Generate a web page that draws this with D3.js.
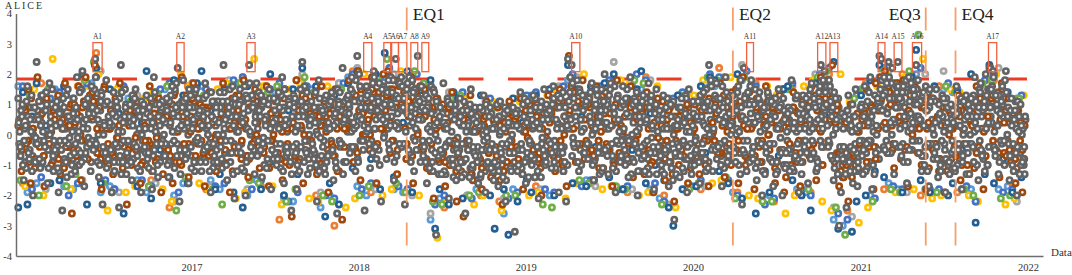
<!DOCTYPE html>
<html><head><meta charset="utf-8">
<script src="https://cdn.jsdelivr.net/npm/d3@7"></script>
<style>body{margin:0;background:#fff}svg{display:block}text{font-family:"Liberation Serif","Times New Roman",serif}</style>
</head><body><svg id="c" width="1072" height="275"></svg>
<script>
// ---------- data ----------
const axisStart = "2015-12-15", axisEnd = "2022-02-03";
const seriesStart = "2015-12-20";
const yearTicks = [2017, 2018, 2019, 2020, 2021, 2022];
const yTicks = [-4, -3, -2, -1, 0, 1, 2, 3, 4];
const yTitle = "ALICE", xTitle = "Data";
const threshold = 1.84;
const thresholdEnd = "2021-12-30";
const eqLabels = ["EQ1", "EQ2", "EQ3", "EQ4"];
const eqDates = ["2018-04-16", "2020-03-28", "2021-05-23", "2021-07-27"];
const eqSpan = [4.2, -3.7];
const anomalyLabels = ["A1","A2","A3","A4","A5","A6","A7","A8","A9","A10","A11","A12","A13","A14","A15","A16","A17"];
const anomalyStart = ["2016-05-31","2016-11-30","2017-05-02","2018-01-12","2018-02-25","2018-03-14","2018-03-29","2018-04-25","2018-05-19","2019-04-11","2020-04-27","2020-09-29","2020-10-26","2021-02-08","2021-03-15","2021-04-24","2021-10-07"];
const anomalyEnd   = ["2016-06-20","2016-12-16","2017-05-20","2018-01-30","2018-03-12","2018-03-29","2018-04-16","2018-05-10","2018-06-03","2019-04-29","2020-05-12","2020-10-17","2020-11-12","2021-02-23","2021-04-01","2021-05-14","2021-10-25"];
const anomalyRange = [2.08, 3.04];

const grayVals = [
1.2,-0.4,0.6,-1.5,0.3,1.6,-0.8,0.1,-2.0,0.9, 2.4,0.5,-1.1,1.3,-0.2,0.8,-1.6,1.7,0.2,-0.7,
-0.5,1.1,-1.9,0.4,-2.5,0.9,-0.9,1.5,-0.1,-1.3, 0.7,-1.2,1.9,0.1,-0.6,2.1,-1.7,0.5,1.2,-0.3,
1.6,-0.5,2.5,0.8,-1.4,1.1,-2.3,0.3,1.8,-0.8, 0.4,-1.9,1.4,-0.3,0.9,-2.4,2.3,-0.9,0.6,-1.3,
-0.2,1.0,-1.5,0.5,1.5,-0.7,0.2,-1.9,0.8,-0.4, 1.3,-0.6,0.6,-1.8,1.9,0.1,-1.0,1.0,-0.3,0.5,
-0.7,1.2,-1.4,0.4,1.6,-0.2,0.9,2.2,-2.2,0.3, 1.8,-0.5,0.7,-1.6,1.3,0.2,-0.9,1.5,-0.1,0.8,
-1.2,0.6,1.7,-0.4,0.3,-1.9,1.1,-0.7,0.9,0.0, 1.4,-0.8,2.3,0.5,-1.5,0.9,-0.2,1.6,-2.1,0.6,
0.1,1.5,-1.1,0.7,-2.0,1.2,2.3,-0.4,0.9,-1.3, 1.7,-0.2,0.6,-1.4,1.1,0.3,-0.8,1.5,-1.8,0.4,
0.8,-1.0,1.4,-0.3,1.9,-1.6,0.5,-0.6,1.0,-2.5, -0.4,1.2,-1.8,0.6,1.5,2.4,-0.9,0.9,-1.3,0.3,
1.1,-0.5,0.4,-2.2,1.8,-0.1,0.8,-1.1,1.3,-0.7, 0.2,1.4,-1.5,0.7,-2.6,1.0,-0.3,2.2,0.5,-0.9,
1.3,-0.6,1.9,0.4,-1.2,2.6,2.0,0.9,-0.2,-2.5, 1.6,0.2,-1.1,1.2,2.1,-0.4,0.8,1.7,-2.2,0.5,
1.0,-0.8,1.8,0.3,1.4,-1.5,2.5,0.7,-0.3,1.9, 0.9,-2.3,1.5,-0.5,0.6,1.8,-1.2,0.2,2.6,1.1,
1.6,-0.7,0.8,-1.6,1.2,0.1,-0.9,1.4,-3.3,-0.2, 0.6,-1.3,1.7,-0.4,0.2,-2.1,1.0,-0.8,0.5,-1.5,
-0.6,1.2,-1.4,0.3,-2.6,0.8,-0.2,1.5,-1.0,0.1, 0.4,-1.6,0.9,-0.5,1.3,-1.9,-0.1,0.6,-1.1,0.2,
-0.9,0.5,-1.7,1.1,-0.3,0.2,-2.2,0.8,-0.6,-1.2, 0.9,-3.2,0.3,-1.0,1.4,-0.5,0.6,-1.6,1.1,-0.2,
-0.7,1.3,-1.4,0.4,-2.1,0.9,-0.1,1.5,-0.9,0.5, 0.8,-1.1,1.6,-0.4,0.2,-1.9,1.2,-0.6,0.6,-2.2,
2.5,1.4,2.3,-0.3,0.9,1.8,-1.2,0.5,1.3,-0.6, 1.1,-0.8,0.6,1.7,-1.5,0.2,1.3,-0.4,0.8,-1.1,
2.0,0.4,-1.3,1.5,-0.3,0.9,-1.9,1.2,0.1,-0.7, 1.6,-0.5,0.7,-1.4,1.9,0.0,-0.9,1.1,-2.0,0.6,
-0.4,1.3,-1.2,0.5,1.7,-0.6,0.3,-1.8,1.0,0.1, 0.8,-1.0,1.3,-0.5,0.2,-1.7,1.0,-0.3,-2.8,-1.3,
0.5,-1.4,1.2,-0.2,0.7,-1.9,1.5,-0.7,0.3,-1.0, -0.5,1.1,-1.6,0.6,1.4,-0.8,0.2,2.3,1.8,-1.2,
0.9,1.7,-0.4,1.2,-1.7,0.4,1.9,-0.9,0.7,0.0, 1.3,-0.6,0.8,1.6,-1.3,-2.3,2.2,0.5,-0.2,1.0,
1.8,-0.8,0.4,-1.5,1.2,0.1,-2.0,0.9,-0.4,1.4, -0.3,1.1,-1.7,0.6,-0.9,1.5,-0.1,-2.0,0.8,-0.6,
0.7,-1.2,1.8,0.2,-0.7,1.3,-1.9,0.5,1.0,-0.4, 1.2,-1.6,0.5,1.7,-0.6,0.9,-1.1,1.4,2.3,0.2,
2.1,1.0,-0.4,1.6,0.6,-1.5,1.2,-0.8,-3.0,-1.9, -0.8,0.6,-2.4,1.3,-1.2,0.1,-0.5,1.5,-1.7,0.3,
0.9,-1.3,1.6,-0.3,0.4,1.9,-1.8,0.8,-0.6,1.2, 2.6,2.5,1.3,-0.5,1.7,2.4,0.4,2.2,-1.3,0.9,
2.4,1.2,-0.7,1.6,0.3,-1.6,1.9,0.7,-0.2,1.3, 2.3,1.8,0.5,-1.2,1.4,-0.4,0.8,-1.7,1.1,0.2,
-0.6,1.5,-1.4,0.7,-0.2,1.2,-1.9,0.4,-0.9,1.0, 0.8,-1.1,1.6,-0.5,0.3,-1.8,1.1,-0.3,0.6,-1.3,
1.2,-0.4,1.9,0.6,-1.5,1.4,-0.7,0.9,2.0,-1.0, 2.2,1.5,2.1,-0.5,1.0,-1.3,0.7,1.6,-0.2,2.1,
0.6,-1.5,1.2,-0.3,0.8,-2.0,0.1,1.0,-0.9,-0.4];

const grayVals2 = [
-0.3,0.8,-1.0,0.2,1.1,-0.6,0.5,-1.2,0.9,-0.1, 0.6,-0.8,1.3,0.1,-0.4,1.0,-1.1,0.4,1.5,-0.2,
0.3,-1.1,0.7,-0.5,1.2,-0.2,-1.4,0.6,-0.7,0.1, -0.6,0.9,-0.1,1.4,-0.9,0.4,1.0,-0.4,0.7,-1.2,
0.9,1.5,-0.3,0.5,-1.0,1.3,0.0,-0.6,1.1,0.3, -0.5,0.7,-1.2,1.1,0.1,-0.7,1.4,-0.2,0.9,-1.0,
0.6,-0.9,0.3,1.2,-0.4,0.8,-1.2,0.0,1.0,-0.6, -0.8,0.9,0.2,-1.2,1.4,-0.3,0.6,-0.9,1.1,0.0,
0.4,-1.0,1.1,-0.3,0.7,1.5,-0.7,0.2,-1.3,0.9, 0.2,1.2,-0.6,0.9,-1.1,0.5,1.4,-0.2,0.7,-0.9,
0.8,-0.5,1.3,0.0,-1.2,0.6,-0.3,1.0,-0.9,0.4, -0.4,1.1,0.2,-1.0,0.7,1.5,-0.6,0.3,1.0,-1.2,
1.0,-0.6,0.4,1.6,-0.9,0.8,0.1,1.3,-0.5,0.6, -0.7,0.8,1.3,-0.3,0.5,-1.1,1.0,0.2,-0.5,1.2,
0.5,-0.8,0.9,1.3,-1.2,0.3,-0.4,1.1,-0.9,0.6, 0.9,-0.6,0.3,-1.2,1.1,0.6,-0.2,1.4,-0.8,0.5,
-0.3,0.9,-1.0,0.4,1.2,-0.7,0.7,-1.3,0.2,1.0, 1.1,-0.5,0.6,-1.1,0.9,1.4,-0.3,0.4,-0.9,1.2,
0.7,1.5,-0.4,1.1,0.3,-0.9,1.6,0.5,-0.2,1.2, 1.3,-0.3,0.9,1.7,0.2,-0.8,1.1,0.6,1.5,-0.1,
0.4,1.4,-0.5,1.0,1.8,0.3,-0.7,1.2,0.8,1.6, 1.2,0.1,1.7,-0.6,0.9,1.4,-0.2,1.0,0.5,-0.9,
0.9,-0.4,1.3,0.2,-1.1,0.7,1.5,-0.6,0.4,-1.3, -0.5,0.7,-1.2,0.3,1.1,-0.8,0.1,-1.4,0.8,-0.3,
0.4,-0.9,0.8,-1.3,0.1,-0.5,1.0,-1.1,0.5,-0.7, -0.9,0.3,-1.3,0.8,-0.5,0.1,-1.1,0.9,-0.3,-1.5,
0.2,-1.0,0.6,-0.6,-1.4,0.9,-0.3,0.4,-1.1,0.0, -0.6,0.7,-1.2,0.2,-0.3,1.0,-0.9,0.4,-1.4,0.8,
0.5,-0.8,0.9,-1.2,0.2,1.1,-0.5,-1.0,0.7,-0.2, -0.3,1.0,-0.9,0.5,1.3,-0.6,0.2,-1.2,0.9,0.3,
1.1,0.5,1.7,-0.4,0.9,-0.9,1.4,0.1,-0.6,1.0, -0.3,1.2,0.4,-1.0,0.8,1.5,-0.6,0.6,-1.2,1.1,
0.8,-0.7,1.3,0.3,-1.1,1.6,-0.2,0.5,-0.9,1.1, 0.2,1.2,-0.8,0.6,-1.3,1.0,-0.3,1.4,-0.6,0.4,
1.1,-0.7,0.4,-1.1,0.9,1.3,-0.4,0.7,-1.3,0.5, -0.7,0.5,-1.3,0.9,-0.4,0.2,-1.1,1.1,-0.6,0.3,
-0.4,0.9,-1.1,0.4,1.2,-0.8,0.1,-1.3,0.7,-0.2, 0.6,-0.9,1.1,-0.3,0.3,1.5,-1.1,0.8,-0.5,0.2,
-0.5,1.2,0.5,-1.0,0.9,-0.2,1.4,-0.7,0.3,1.0, 0.7,-0.9,1.4,0.1,0.9,-0.5,1.2,-1.2,0.4,1.6,
-0.6,1.0,-1.1,0.6,1.4,-0.3,0.8,-1.3,0.3,1.1, 0.5,-0.9,1.0,-1.3,0.2,0.9,-0.6,1.2,-1.1,0.1,
-0.5,0.8,-1.1,0.4,1.2,-0.8,0.2,-1.3,0.7,-0.2, 0.6,1.3,-0.8,0.2,1.0,-1.2,0.5,1.6,-0.4,0.9,
1.4,0.3,1.8,-0.7,0.9,-1.1,0.5,1.2,-0.4,0.7, -0.4,-1.3,0.8,-0.9,0.3,-1.6,0.6,-0.6,-1.1,0.9,
-0.7,0.6,-1.2,1.1,-0.2,0.4,-1.0,1.3,0.0,-0.5, 1.5,0.8,1.9,0.2,-0.6,1.2,1.7,0.5,-0.3,1.4,
0.9,-0.4,1.4,0.6,1.8,-0.9,1.1,0.2,1.5,-0.2, 1.0,-0.6,0.5,1.3,-1.0,0.8,-0.3,1.5,0.2,-0.8,
0.4,-0.8,1.0,-1.2,0.6,-0.3,1.2,-1.0,0.2,-0.6, -0.5,0.9,-1.0,0.3,1.2,-0.7,0.5,-1.3,1.0,0.0,
0.6,-0.9,1.1,0.2,1.5,-0.5,0.8,-1.2,1.3,0.4, 0.9,1.6,-0.4,1.3,0.3,-0.9,1.1,0.6,1.8,-0.2,
-0.3,0.8,-1.0,0.5,-0.6,1.1,-1.3,0.3,-0.8,0.6];

const grayVals3 = [
0.4,-0.7,1.0,-0.2,-1.1,0.6,-0.5,1.3,0.0,-0.9, -0.3,1.1,0.3,-0.9,0.8,1.4,-0.5,0.0,1.0,-1.2,
0.9,-0.4,-1.2,1.0,0.2,-0.8,1.3,-0.3,0.5,-1.0, 1.2,-0.3,0.5,-1.0,1.5,0.2,-0.8,1.0,-0.1,0.8,
-0.2,0.7,1.9,-0.9,0.4,1.4,-0.4,1.0,-1.1,0.6, 1.0,0.3,-0.9,0.6,-0.4,1.2,-1.3,0.4,1.5,-0.6,
-0.9,0.4,1.3,-0.3,0.9,-1.1,0.6,1.1,-0.5,0.2, 0.7,-1.1,1.2,0.4,-0.5,1.0,-1.4,0.3,0.9,-0.7,
-0.3,0.8,-0.9,1.3,0.1,-1.1,1.7,0.6,-0.5,1.1, 1.1,-0.8,0.4,1.5,-0.4,0.9,-1.2,0.6,1.2,-0.3,
0.3,1.2,-0.9,0.7,-0.3,1.4,-1.1,0.5,-0.5,1.1, 0.9,-1.1,1.4,-0.2,1.1,-0.6,0.6,-1.3,1.2,0.1,
-0.4,1.1,0.6,-1.2,1.3,0.2,1.7,-0.7,1.0,0.4, 0.8,1.4,-0.5,1.0,-1.0,0.6,-0.2,1.2,0.3,-0.8,
-0.6,1.1,0.2,-1.1,0.8,1.5,-0.7,0.4,1.2,-1.3, 1.3,0.1,-1.0,1.1,-0.4,0.8,1.6,-0.6,0.5,-1.1,
0.6,-0.8,1.4,0.0,-1.2,0.9,-0.4,1.2,-0.9,0.4, -0.6,1.2,0.3,-0.9,1.5,-0.2,0.8,-1.3,1.1,0.5,
1.0,-0.4,1.4,0.2,1.8,-0.8,0.6,1.2,-0.5,0.9, 0.1,1.4,0.8,-0.6,1.9,0.5,1.2,-1.0,0.9,1.6,
1.5,0.6,-0.3,1.9,0.9,-0.9,1.3,0.2,1.7,-0.4, -0.3,1.3,0.7,1.9,-0.9,0.4,1.5,-0.5,1.2,0.8,
0.5,1.2,-0.9,0.9,-0.2,1.6,-1.2,0.3,1.1,-0.7, 0.9,-0.6,0.4,-1.3,1.2,-0.2,0.6,-1.0,1.0,-0.5,
-1.1,0.6,-0.3,1.1,-0.8,0.3,-1.4,0.7,-0.4,0.9, 0.6,-0.7,-1.4,0.3,-0.2,1.0,-0.9,-0.5,0.7,-1.2,
-0.5,1.0,-1.2,0.1,-0.8,0.7,-1.5,0.3,-0.2,0.9, 0.3,-1.1,0.8,-0.5,0.2,-1.3,1.2,-0.8,0.5,-0.3,
-1.0,0.3,1.2,-0.4,0.8,-1.4,0.5,-0.7,1.0,-0.2, 0.7,-0.6,1.2,-1.1,0.4,0.9,-0.4,1.4,-0.9,0.5,
0.2,1.9,-0.7,1.2,0.6,-0.3,1.5,-1.0,0.8,1.3, 1.2,-0.3,1.4,0.0,-0.9,1.0,0.4,-1.3,1.5,-0.5,
-0.5,1.0,0.2,1.7,-0.7,0.7,-1.2,1.3,0.5,-0.2, 1.0,-1.0,1.5,-0.2,0.6,-0.8,1.2,0.1,-1.2,0.9,
-0.8,0.6,1.2,-0.2,-1.3,1.1,0.2,-0.6,1.5,-0.4, 0.5,-1.2,0.2,-0.6,1.2,-0.9,0.6,-1.5,0.3,-0.3,
0.9,-0.7,0.3,-1.2,1.3,-0.4,0.6,-1.0,1.1,-0.6, -0.9,0.5,1.3,-0.6,0.9,-1.2,1.1,0.0,1.6,-0.4,
1.3,-0.8,0.8,-0.3,1.6,-1.1,0.6,1.1,-0.5,0.4, -0.4,1.2,0.2,-1.0,1.8,0.6,-0.6,1.0,1.4,-0.9,
1.1,-0.4,1.5,-0.9,0.5,1.0,-1.2,0.2,-0.6,1.3, -0.8,0.6,-0.3,1.2,-1.2,0.3,1.0,-0.5,0.5,-1.0,
0.9,-0.6,0.4,-1.2,1.2,-0.3,0.7,-0.9,1.3,0.2, -0.6,0.9,1.5,-0.2,1.2,0.4,-0.9,1.1,0.6,1.8,
0.8,1.6,-0.2,1.1,-0.8,1.4,0.2,-1.3,0.6,-0.7, 0.2,-0.8,-1.3,0.5,-0.4,1.0,-1.2,0.2,-0.9,-0.2,
1.0,-0.5,0.6,-1.1,1.4,-0.2,0.8,-1.3,0.3,1.1, 0.9,1.8,-0.4,1.4,0.7,1.9,-0.6,1.2,0.4,1.6,
1.6,0.2,1.1,-0.9,1.4,0.6,-0.5,1.7,0.4,1.0, 1.5,0.6,1.1,-0.7,0.3,1.6,-1.2,0.9,-0.3,1.2,
1.1,-0.4,0.5,-1.0,1.3,0.1,-0.8,0.9,-1.3,0.5, 0.4,-1.2,0.7,-0.3,1.1,-0.9,0.2,1.3,-0.6,0.8,
-0.3,1.3,0.4,-1.0,0.9,1.7,-0.6,1.1,0.2,1.5, 1.5,0.4,1.9,-0.7,0.8,1.3,-0.2,1.0,-1.0,1.4,
0.9,-0.7,0.3,-1.2,1.1,-0.4,0.6,-1.0,0.2,-1.3];

const grayVals4 = [
0.1,-0.5,0.7,-0.9,0.3,-0.2,0.9,-0.7,0.5,-0.3, 0.8,-0.2,0.4,-0.7,1.1,0.0,-0.5,0.6,-0.9,0.3,
-0.6,0.4,-0.2,0.8,-1.0,0.2,0.6,-0.4,1.0,-0.8, 0.3,0.9,-0.5,0.6,-0.2,1.1,-0.6,0.2,0.8,-0.9,
0.5,-0.2,1.2,0.0,0.8,-0.6,0.4,1.0,-0.4,0.2, 0.3,-0.6,0.8,-0.1,-0.9,0.5,0.1,-0.4,1.0,-0.7,
-0.4,0.5,-0.8,0.8,0.0,-0.5,1.0,-0.2,0.4,-1.0, 0.4,-0.4,1.0,-0.7,0.6,0.0,-0.9,0.8,-0.2,1.1,
0.9,-0.5,0.3,-0.9,0.6,0.1,-0.3,1.0,-0.7,0.5, -0.5,0.7,0.0,1.0,-0.7,0.4,-0.2,0.9,0.2,-0.8,
0.5,-0.8,0.2,0.9,-0.4,0.6,-0.9,0.3,1.1,-0.2, 0.7,0.0,-0.6,1.0,0.3,-0.9,0.8,-0.3,0.5,1.2,
0.6,-0.3,1.1,0.3,-0.7,0.9,0.0,1.3,-0.4,0.7, 0.2,-0.6,0.9,-0.1,1.1,0.5,-0.9,0.7,-0.2,0.4,
-0.3,0.6,-0.8,0.4,0.9,-0.5,0.1,1.0,-0.9,0.3, 0.6,-0.3,1.0,-0.8,0.2,0.8,-0.5,1.1,0.0,-0.7,
0.5,-0.6,0.1,0.9,-0.9,0.4,-0.2,0.8,-0.7,0.2, -0.2,0.8,-0.7,0.4,1.1,-0.4,0.6,-0.9,0.9,0.1,
0.9,0.1,1.3,-0.4,0.6,1.1,-0.2,0.8,0.3,1.4, 0.4,1.1,-0.2,0.9,0.2,1.4,-0.5,0.7,1.2,0.0,
1.1,0.2,1.5,0.6,-0.2,1.2,0.4,1.7,-0.4,0.9, 0.8,-0.3,1.2,0.3,1.6,-0.1,0.7,1.3,-0.5,0.5,
-0.2,0.7,-0.8,1.0,0.3,-0.5,0.8,0.0,1.2,-0.9, 0.4,-0.8,0.2,-0.3,0.8,-1.0,0.5,-0.5,1.0,-0.1,
-0.5,0.3,-0.9,0.7,-0.2,0.4,-1.1,0.1,-0.6,0.8, -0.4,0.5,-0.9,0.0,-1.2,0.6,-0.6,0.2,-1.0,0.4,
0.5,-0.7,0.0,-1.1,0.6,-0.4,-0.9,0.3,-0.6,0.7, -0.9,0.4,-0.4,0.7,-1.1,0.1,0.6,-0.6,0.3,-0.8,
0.2,-0.6,0.7,-0.9,0.4,-0.3,1.0,-0.7,0.1,0.6, -0.6,0.5,-0.2,0.9,-0.8,0.3,1.1,-0.4,0.6,-1.0,
0.7,1.2,-0.1,0.9,0.3,1.4,-0.5,1.0,0.2,-0.3, 0.5,-0.5,1.0,0.1,-0.8,0.8,-0.2,1.1,-0.6,0.4,
0.2,1.1,-0.5,0.7,-0.9,0.4,1.2,-0.3,0.9,0.0, -0.5,0.6,-0.1,1.0,-0.8,0.4,0.8,-0.4,0.2,1.1,
0.7,-0.3,0.9,-0.8,0.3,-0.1,1.1,-0.6,0.5,-0.9, -0.2,0.7,-0.9,0.3,-0.5,0.9,-1.1,0.0,-0.7,0.6,
0.3,-0.5,0.8,-0.8,0.1,0.9,-0.3,-1.0,0.5,-0.1, -0.3,0.9,-0.7,0.4,-0.1,1.0,-0.9,0.5,0.0,1.2,
0.6,-0.3,1.0,-0.7,0.3,1.2,-0.4,0.8,-0.9,0.4, 0.9,0.0,1.1,-0.6,0.5,-0.2,1.3,0.2,-0.8,0.7,
0.3,-0.7,0.8,-0.2,1.1,-0.9,0.5,-0.4,0.9,0.0, -0.3,0.7,-0.9,0.2,0.9,-0.5,0.4,-1.0,0.6,-0.2,
0.5,-0.4,0.9,-0.8,0.1,0.7,-0.6,1.0,-0.2,0.3, 1.0,0.1,-0.5,1.2,0.4,-0.8,0.8,-0.2,1.3,0.5,
0.5,1.3,-0.3,0.8,0.0,1.1,-0.6,0.9,0.3,-1.0, 0.4,-0.6,-1.0,0.2,-0.8,0.6,-0.3,-1.2,0.1,-0.5,
-0.2,0.8,-0.6,0.3,-0.9,0.6,0.1,-0.4,1.0,-0.8, 1.1,0.3,1.5,-0.2,0.9,1.3,0.0,1.7,0.5,-0.4,
0.4,1.2,-0.3,0.9,1.5,0.1,0.7,-0.5,1.1,0.6, 0.6,-0.2,1.2,0.3,-0.7,0.9,1.4,-0.4,0.5,0.0,
-0.3,0.6,-0.8,0.3,0.9,-0.5,0.1,-1.0,0.7,-0.2, 0.6,-0.4,0.3,-0.8,0.8,0.0,-0.6,1.0,-0.3,0.4,
0.9,0.1,-0.5,1.2,-0.2,0.6,-0.8,1.0,0.3,-0.4, 0.6,1.1,0.1,-0.5,1.4,0.4,-0.3,0.9,1.2,0.0,
0.4,-0.4,0.7,-0.8,0.2,0.8,-0.6,0.0,-1.0,0.5];

const brownVals = [
0.5,-1.2,1.0,-0.3,1.5,-1.6,0.2,-0.8, 1.9,-0.4,0.7,-1.7,1.2,0.0,-1.0,0.9, -0.6,1.3,-1.3,0.5,1.7,-0.9,0.3,-2.6,
1.0,-0.7,1.6,-1.5,0.4,1.9,-0.2,0.8, 1.4,2.3,-0.6,0.9,-1.8,1.5,0.2,-1.0, 0.8,-1.3,1.2,-0.1,1.7,-0.8,0.4,-2.3,
0.3,-1.0,1.3,-0.5,0.6,-1.6,1.0,-0.2, -0.4,1.6,-1.2,0.7,-0.1,1.2,-1.9,0.5, 1.1,-0.5,0.4,-1.6,1.4,0.8,-0.9,1.9,
-0.3,1.3,-1.4,0.6,1.7,-0.7,0.2,1.0, 0.9,-1.7,0.3,1.4,-0.6,1.0,-1.2,0.5, -0.2,1.7,-1.0,0.8,-1.9,1.2,0.4,-0.6,
1.3,-0.8,1.8,0.2,-1.4,0.9,-0.3,1.5, 0.4,-1.1,1.2,-0.4,1.6,-1.7,0.7,0.0, 1.1,-0.6,0.5,-1.5,1.5,0.2,-1.0,-2.7,
0.9,1.8,-0.9,0.3,-1.6,1.2,-0.2,0.7, -0.5,1.3,-1.3,0.6,1.6,-0.8,0.1,-1.9, 1.0,-0.4,1.5,-1.2,0.6,-2.8,0.2,1.2,
1.8,0.4,-0.9,1.3,2.1,-1.5,0.7,0.0, 1.1,-0.5,1.9,0.6,-1.6,1.4,0.2,2.0, 0.8,2.1,-0.6,1.5,0.3,-1.3,1.7,0.9,
1.4,-0.8,0.6,1.9,-1.6,1.1,0.0,1.6, 0.5,1.5,-1.1,0.9,-0.3,-2.1,1.2,-0.8, -0.6,1.0,-1.7,0.4,-1.0,1.4,-0.3,-2.2,
0.6,-1.2,-2.7,0.9,-0.5,1.3,-1.5,0.2, -0.9,0.7,-1.8,0.3,1.1,-0.6,-1.4,0.5, -0.4,0.9,-1.5,-2.3,0.4,-0.9,1.1,-0.2,
-1.1,0.6,-0.5,1.2,-1.8,0.1,-0.8,1.0, 0.3,-1.4,1.0,-0.6,-2.0,0.7,-0.1,1.3, -0.5,1.2,-1.2,0.4,1.5,-0.9,0.6,-1.7,
2.6,1.6,0.2,-0.9,1.1,-0.3,1.8,0.5, -0.6,1.2,0.3,-1.5,1.6,-0.2,0.8,-1.1, 1.4,-0.4,0.9,-1.7,0.5,1.8,-0.8,0.2,
-0.9,1.1,-0.3,1.6,-1.4,0.6,0.0,1.2, 0.7,-1.3,1.4,-0.5,0.3,-1.9,1.0,-0.1, -0.4,1.1,-1.5,0.5,-0.9,1.0,-2.2,0.2,
-1.0,0.8,-0.3,1.2,-1.6,0.4,-0.7,1.0, 0.5,-1.3,1.3,-0.2,0.8,-1.7,1.6,0.1, 1.0,-0.6,1.7,0.3,-1.4,0.9,-0.3,1.4,
-0.5,1.5,-1.6,0.6,1.9,-0.7,0.2,1.1, 0.4,-1.8,1.2,-0.4,0.8,-1.2,1.6,0.0, -0.8,0.9,-1.6,0.3,1.3,-0.5,-1.9,0.6,
0.2,-1.0,1.4,-0.6,0.7,-1.7,1.1,-0.2, 0.9,-0.7,1.6,0.3,-1.5,1.2,1.9,-0.4, 1.2,1.8,0.5,2.3,-0.9,0.8,-1.7,-0.5,
-1.4,0.4,-2.2,1.0,-0.6,-1.0,0.7,-0.3, 0.5,-1.2,1.5,-0.4,0.9,-1.8,1.7,0.2, 1.9,0.8,2.1,-0.6,1.4,0.3,-1.1,1.7,
1.0,-0.8,1.8,0.5,-1.7,1.3,0.0,1.6, 1.5,0.2,-1.0,0.9,-1.8,0.4,1.2,-0.5, -0.3,1.1,-1.2,0.6,-1.9,0.9,0.0,-0.8,
0.9,-0.6,1.3,-1.5,0.2,1.0,-1.0,0.5, 0.3,-1.1,1.6,-0.4,0.9,-1.8,1.2,0.6, 2.2,1.3,-0.5,1.0,-1.4,1.7,0.4,-0.7,
1.2,-0.9,0.5,-1.6,0.8,-0.2,-1.9,0.3];

const brownVals2 = [
-0.7,0.9,-0.2,1.2,-1.1, 0.5,-0.9,1.1,-0.3,0.8, -0.4,0.7,-1.1,0.3,1.0, 0.4,-1.0,0.9,-0.2,1.3, 1.1,0.2,-0.8,1.6,-0.3,
-0.6,1.0,0.3,-1.1,0.7, 0.8,-0.4,1.1,-1.0,0.3, -0.2,1.1,-0.9,0.6,-1.3, 0.6,-0.7,1.3,0.1,-1.0, 0.9,-0.3,1.2,-0.9,0.4,
-0.6,0.8,-0.1,1.1,-1.1, 1.0,-0.5,0.6,-1.2,1.3, 0.3,1.2,-0.7,0.9,-0.2, -0.4,1.0,0.4,-1.1,0.8, 0.7,-0.8,1.2,-0.3,0.2,
-0.7,0.8,1.3,-0.2,0.5, 0.9,-1.1,0.3,1.1,-0.5, -0.3,0.6,-1.2,1.0,0.2, 1.2,0.3,-0.6,1.5,0.8, 0.5,1.5,-0.4,1.0,0.2,
1.3,0.4,1.8,-0.5,1.0, 0.2,1.1,-0.7,1.4,0.6, -0.5,0.8,-1.2,0.5,1.1, 0.4,-0.9,0.9,-0.3,-1.2, -0.8,0.5,-0.2,-1.3,0.8,
0.2,-1.1,0.6,-0.5,-1.3, -0.7,0.3,-1.2,0.7,-0.4, 0.5,-0.8,-1.3,0.8,-0.2, -0.5,0.6,-1.1,0.9,-0.2, 0.7,-0.4,1.1,-1.0,0.3,
0.8,1.4,-0.3,0.5,-0.8, 1.0,-0.5,0.4,-1.1,1.3, -0.3,0.7,-1.0,1.2,0.3, 0.6,-0.9,1.1,-0.2,-1.2, -0.5,0.9,-1.0,0.4,1.2,
0.3,-0.8,0.8,-1.3,-0.2, 0.6,-0.7,1.0,-1.1,0.2, -0.3,0.8,-1.0,1.2,0.4, 0.7,-0.6,1.3,0.1,-1.0, 1.1,-0.2,0.6,-1.0,1.4,
-0.4,0.9,-0.9,0.3,1.1, 0.4,-1.1,0.8,-0.5,-1.4, -0.3,0.9,-0.9,0.4,1.1, 0.9,-0.5,1.3,0.2,-1.0, 1.5,0.4,-0.7,1.0,-1.2,
-0.9,0.5,-1.4,0.2,-0.5, 0.3,-0.9,1.0,-0.4,0.8, 1.2,0.4,1.6,-0.5,0.9, 0.6,1.4,-0.4,1.1,0.2, -0.6,0.9,0.3,-1.1,1.2,
0.5,-0.8,0.9,-1.2,0.2, -0.4,0.8,-1.0,0.5,-1.3, 0.7,-0.6,1.2,0.1,-1.0, 1.2,0.3,-0.6,1.5,0.8, -0.5,0.7,-1.1,0.4,-0.8];

const brownVals3 = [
0.3,-0.5,0.8,-0.9,0.2, -0.3,0.6,-0.7,1.0,0.1, 0.5,-0.8,0.2,-0.4,0.9, -0.5,0.7,0.0,1.1,-0.8, 0.6,-0.4,1.1,0.2,-0.9,
0.2,-0.7,0.9,-0.3,0.5, -0.5,0.6,-0.1,0.9,-0.9, 0.8,-0.3,0.4,-0.8,1.0, -0.4,0.5,1.0,-0.9,0.2, 0.6,-0.6,0.1,1.1,-0.3,
-0.2,0.9,-0.7,0.4,0.0, 0.5,-0.9,1.1,0.2,-0.4, 0.8,-0.2,0.5,-0.8,1.2, 0.0,0.9,-0.6,0.5,-0.2, -0.6,0.6,0.1,-0.9,1.0,
0.4,-0.5,1.1,0.0,-0.8, -0.2,0.8,-0.8,0.3,0.6, 0.7,-0.7,0.2,1.0,-0.4, 0.3,1.2,-0.5,0.8,0.0, 1.0,0.0,1.4,-0.3,0.6,
0.5,1.3,-0.2,0.9,1.6, 1.1,-0.3,0.6,1.4,0.1, -0.4,0.6,-0.9,0.9,0.2, 0.3,-0.6,0.7,-1.0,-0.2, -0.7,0.4,-0.3,0.7,-1.1,
0.1,-0.8,0.5,-0.4,-1.1, -0.5,0.5,-1.0,0.1,-0.3, 0.6,-0.4,-0.9,0.3,-0.1, -0.3,0.8,-0.8,0.2,0.5, 0.4,-0.7,0.9,-0.2,0.0,
1.1,0.2,-0.4,0.9,0.5, -0.2,0.9,-0.7,0.6,0.1, 0.7,-0.5,0.3,1.0,-0.6, 0.1,-0.7,0.9,-0.3,0.5, 0.6,-0.5,0.2,-0.9,0.9,
-0.5,0.5,-0.2,-0.9,0.6, 0.2,-0.5,0.8,-0.8,0.1, 0.5,-0.6,1.0,-0.2,0.3, -0.2,0.8,-0.6,0.5,1.1, 0.6,-0.5,1.1,0.3,-0.8,
0.2,-0.7,0.9,-0.2,0.6, -0.5,0.6,-0.9,0.2,0.5, 0.4,-0.6,0.8,-0.2,-0.9, 0.5,1.1,-0.3,0.8,0.1, 0.9,-0.2,1.2,0.4,-0.6,
-0.4,-1.0,0.4,-0.7,0.1, -0.5,0.7,-0.2,0.9,-0.8, 0.8,1.4,0.2,1.0,-0.3, 1.1,0.3,-0.5,0.8,1.3, 0.4,-0.6,1.0,0.2,-0.3,
-0.4,0.6,-0.9,0.3,0.8, 0.2,-0.7,0.6,-0.3,0.9, 0.6,-0.4,1.0,0.2,-0.7, 0.9,-0.2,1.3,0.5,-0.6, -0.2,0.5,-0.8,0.6,-0.5];

const darkBlueVals = [
-2.4,1.4,-2.3,0.6, 1.7,-1.0,0.3,-1.6, 0.9,-1.5,1.6,-0.4, 1.2,-0.7,2.0,-2.3, 0.5,2.2,-1.6,1.0,
1.5,-1.2,0.7,-2.6, -0.8,1.2,-1.7,0.4, 2.1,-2.1,1.1,-0.5, 0.6,-1.4,1.8,-0.9, 1.3,-1.6,0.4,1.7,
2.1,-0.6,0.8,-1.8, -1.3,1.5,0.2,-1.9, 0.9,-2.4,1.6,-0.3, 1.1,-1.8,0.4,2.0, -0.9,1.3,-2.0,0.8,
1.5,-1.3,2.2,-0.6, 0.7,1.6,-1.0,-2.7, -1.6,1.3,-2.3,0.9, 1.7,-1.1,2.1,0.5, 1.3,-0.8,2.0,-1.8,
2.7,1.1,-1.4,1.8, 0.4,2.1,-1.9,1.5, 1.3,-0.9,1.8,-3.1, -1.8,0.9,-2.3,1.4, 1.2,-2.1,0.5,-1.3,
-1.5,1.3,-0.5,-2.0, -3.1,0.6,-1.8,-3.3, 1.2,-2.2,0.4,-1.5, -1.9,1.3,-0.8,0.7, 1.5,-2.0,0.3,-1.2,
2.3,-1.6,1.5,0.6, -1.7,1.6,-0.4,1.0, 1.7,-1.4,2.0,-0.3, -1.8,1.2,-0.5,1.5, 2.1,-1.6,0.7,-1.0,
1.1,-1.5,-2.4,-3.0, 1.3,-1.8,0.6,-0.9, -1.7,1.6,-0.6,1.9, 1.8,-1.2,0.5,-1.6, 0.8,2.0,-2.1,1.2,
1.5,-2.6,0.6,-1.2, -1.9,1.2,-0.7,1.5, 1.6,-1.5,0.3,-2.0, 0.8,-2.5,1.7,-1.0, 1.6,0.7,2.4,-3.1,
-1.4,0.8,-3.2,-2.2, 1.3,-2.0,1.8,-1.2, 2.3,-1.4,1.5,-0.3, 1.7,-1.9,0.8,1.9, 2.8,-1.5,0.9,-1.9,
1.6,-1.2,0.4,-2.0, -1.6,1.4,-0.5,1.1, 2.0,-2.9,1.2,-1.3, 2.3,-1.6,1.3,-0.8, 1.4,-1.9,0.5,-1.4];

const blueVals = [
1.6,-1.8, -1.4,1.2, 1.4,-2.0, -1.6,1.7, 1.9,-1.5, -1.8,1.6, 1.3,-1.5, -1.7,1.5, 1.7,-1.9, -1.5,1.6,
1.5,-1.7, -1.6,1.8, 1.9,-1.8, -1.5,1.5, 1.7,-2.2, -1.9,1.6, 1.5,-2.0, -2.1,1.7, 2.0,-1.8, -1.6,1.9,
2.2,-1.7, -1.8,2.0, 1.5,-2.3, -2.0,1.3, 1.4,-2.1, -1.8,1.2, 1.1,-2.1, -1.9,1.3, 1.4,-1.8, -1.9,1.6,
2.0,-1.7, -1.5,1.6, 1.8,-1.8, -1.7,2.0, 1.8,-1.6, -2.2,1.2, 1.4,-1.7, -1.5,2.0, 1.9,-1.5, -2.0,2.1,
1.6,-2.3, -2.1,1.5, 1.7,-1.8, -2.0,2.0, 2.2,-2.6, -2.8,1.3, 1.6,-2.1, 2.2,-1.7, -1.8,2.0, 2.2,-1.8,
-1.8,1.7, 1.5,-1.7, -2.2,1.8, 2.0,-1.9, -1.8,1.3];

const greenVals = [
-1.5,1.3, -2.0,1.5, 1.2,-1.7, -1.3,1.8, 2.4,-1.6, -1.9,1.4, 1.1,-1.6, -1.7,1.3, 1.6,-2.5, -1.4,1.5,
1.3,-1.8, -2.3,1.6, 1.7,-1.5, -1.6,1.4, 1.6,-2.2, -1.8,1.9, 1.4,-2.0, -2.2,1.5, 1.8,-2.0, -1.7,1.9,
2.5,-1.6, -1.9,2.1, 1.7,-2.2, -2.3,1.2, 1.3,-2.0, -1.9,1.0, 0.9,-2.0, -2.0,1.2, 1.2,-2.3, -2.4,1.4,
1.9,-1.5, -1.6,1.5, 1.6,-1.7, -1.8,1.8, 1.7,-1.9, -2.3,1.1, 1.3,-1.8, -1.6,1.9, 1.8,-1.4, -2.1,1.9,
1.5,-2.2, -2.2,1.4, 1.5,-1.9, -1.8,1.9, 2.1,-2.4, -3.3,1.2, 1.5,-2.2, 2.2,-1.8, -1.9,2.1, 3.3,-1.9,
-1.9,1.6, 1.4,-1.8, -2.0,1.7, 1.8,-2.1, -2.0,1.2];

const yellowVals = [
-1.7,1.5, -2.0,2.5, 1.3,-1.8, -1.6,1.6, 2.0,-2.5, 1.5,-1.9, -1.7,1.2, 1.4,-1.8, -2.2,2.0, 1.6,-1.6,
-1.8,1.5, 1.7,-2.1, -1.9,2.5, 1.6,-1.7, -2.3,1.5, 1.7,-2.1, -2.2,1.6, 1.5,-2.4, -2.1,2.0, 1.9,-2.0,
-1.8,2.1, 2.0,-2.0, 1.6,-3.4, -2.2,1.3, 1.2,-2.3, -2.0,1.1, -2.5,0.9, 1.1,-2.0, -1.9,1.3, 1.5,-2.1,
-1.6,2.0, 1.5,-1.8, -1.7,1.8, 1.7,-2.0, -1.9,1.6, 1.1,-2.4, -1.8,1.3, 1.8,-1.6, -1.5,1.9, 1.8,-2.0,
-2.1,1.6, 1.3,-2.6, -2.0,1.6, 1.8,-2.2, -2.5,2.0, 1.1,-2.9, -2.4,1.6, 2.0,-1.9, 1.9,-1.8, 2.5,-2.1,
-2.0,1.5, 1.4,-2.0, -2.2,1.8, 2.0,-2.3, -2.1,1.3];

const lightGrayVals = [1.5,-1.8,1.6,-1.5,2.1,-1.9,1.3,-1.6,-2.2,1.7,-1.7,1.8,-1.8,1.6,-2.1,2.0,-1.9,1.7,2.2,-1.8,
2.0,-2.0,-2.6,1.4,-2.0,1.2,-2.1,1.3,-1.8,1.6,1.9,-1.7,2.4,-1.8,1.8,-2.3,1.4,-1.7,1.9,2.3,
-2.1,1.5,-1.9,2.0,-2.4,-2.7,1.8,2.1,-1.9,2.0,2.1,-1.8,1.7,2.2,-2.2];

const orangeVals = [-1.6,1.7,-1.5,1.6,2.7,-1.8,1.2,-1.5,-2.4,1.6,-1.8,1.7,1.9,-1.7,-2.8,1.8,-2.0,-3.0,2.1,-1.9,
2.0,-1.8,1.6,-2.4,1.3,-2.0,-2.2,1.2,-1.7,1.5,1.8,-1.6,1.7,-1.9,1.9,-2.0,1.3,-1.8,2.2,-1.9,
1.7,-2.2,1.6,-1.9,2.0,-2.5,1.7,-1.8,2.0,-2.0,1.6,-1.9,-2.2,1.8,-1.6];

const lightBlueVals = [
1.6,-1.9, -1.6,1.4, 1.5,-1.7, -1.8,1.5, 1.7,-1.9, -1.7,1.6, 1.2,-1.5, -1.9,1.4, 1.5,-2.0, -1.6,1.7,
1.6,-1.5, -1.8,1.5, 1.7,-2.0, -1.5,1.6, 1.4,-2.0, -2.2,1.7, 1.5,-2.4, -2.0,1.7, 1.9,-1.7, -2.0,2.0,
1.9,-1.8, -1.9,1.8, 1.4,-2.8, -2.1,1.2, 1.3,-2.0, -1.8,1.1, 1.0,-2.6, -1.8,1.2, 1.3,-1.9, -2.0,1.5,
1.8,-1.6, -1.5,1.5, 1.6,-1.7, -1.8,1.7, 1.5,-1.8, -2.1,1.2, 1.3,-1.8, -1.7,1.7, 1.6,-1.6, -1.9,1.8,
1.5,-2.1, -2.0,1.4, 1.5,-1.8, -1.9,1.8, 1.9,-2.8, -3.0,1.1, 1.5,-2.0, 1.9,-1.6, -1.8,1.8, 2.0,-1.8,
-1.9,1.5, 1.4,-1.8, -1.8,1.6, 1.8,-1.8, -1.7,1.2];

// series table (sampling: step & offset in days from seriesStart), bottom -> top
const series = [
  {values: lightBlueVals, step: 20, offset: 0,  color: "#5B9BD5"},
  {values: orangeVals,    step: 40, offset: 10, color: "#ED7D31"},
  {values: lightGrayVals, step: 40, offset: 20, color: "#A5A5A5"},
  {values: yellowVals,    step: 20, offset: 15, color: "#FFC000"},
  {values: blueVals,      step: 20, offset: 10, color: "#4472C4"},
  {values: greenVals,     step: 20, offset: 5,  color: "#70AD47"},
  {values: darkBlueVals,  step: 10, offset: 0,  color: "#255E91"},
  {values: grayVals4,     step: 4,  offset: 3,  color: "#636363"},
  {values: brownVals3,    step: 8,  offset: 0,  color: "#9E480E"},
  {values: brownVals2,    step: 8,  offset: 4,  color: "#9E480E"},
  {values: brownVals,     step: 5,  offset: 2,  color: "#9E480E"},
  {values: grayVals3,     step: 4,  offset: 1,  color: "#636363"},
  {values: grayVals2,     step: 4,  offset: 2,  color: "#636363"},
  {values: grayVals,      step: 4,  offset: 0,  color: "#636363"}
];

// ---------- chart ----------
const parse = d3.timeParse("%Y-%m-%d");
const svg = d3.select("#c");
const x = d3.scaleTime().domain([parse(axisStart), parse(axisEnd)]).range([16, 1043]);
const y = d3.scaleLinear().domain([-4, 4]).range([256, 13.5]);
const s0 = parse(seriesStart);

// threshold line (behind points)
svg.append("line")
  .attr("x1", x(parse(axisStart))).attr("x2", x(parse(thresholdEnd)))
  .attr("y1", y(threshold)).attr("y2", y(threshold))
  .attr("stroke", "#EE3A22").attr("stroke-width", 3)
  .attr("stroke-dasharray", "25,24.5").attr("stroke-dashoffset", 3);

// points
const gPts = svg.append("g");
series.forEach(s => {
  const pts = s.values.map((v, i) => ({d: d3.timeDay.offset(s0, s.offset + i * s.step), v}));
  gPts.append("g").selectAll("circle").data(pts).join("circle")
    .attr("cx", p => x(p.d)).attr("cy", p => y(p.v)).attr("r", 2.65)
    .attr("fill", "#f4f4f4").attr("stroke", s.color).attr("stroke-width", 2.6);
});

// axes
const yAxis = svg.append("g").attr("transform", "translate(16,0)")
  .call(d3.axisLeft(y).tickValues(yTicks).tickSize(0).tickPadding(4).tickFormat(d => String(d)));
const xAxis = svg.append("g").attr("transform", `translate(0,${y(-4)})`)
  .call(d3.axisBottom(x).tickValues(yearTicks.map(t => new Date(t, 0, 1))).tickSize(0).tickPadding(8).tickFormat(d3.timeFormat("%Y")));
[yAxis, xAxis].forEach(g => {
  g.select(".domain").attr("stroke", "#6e6e6e").attr("stroke-width", 1.5);
  g.selectAll("text").attr("font-family", "Liberation Serif, serif").attr("font-size", 10.5).attr("fill", "#333");
});

svg.append("text").attr("x", 5).attr("y", 8.5).attr("font-size", 10).attr("fill", "#333")
  .attr("textLength", 37).text(yTitle);
svg.append("text").attr("x", 1051).attr("y", 256).attr("font-size", 11).attr("fill", "#333").text(xTitle);

// anomaly boxes
const boxes = anomalyLabels.map((l, i) => ({l, a: parse(anomalyStart[i]), b: parse(anomalyEnd[i])}));
const gB = svg.append("g");
gB.selectAll("rect").data(boxes).join("rect")
  .attr("x", d => x(d.a)).attr("width", d => x(d.b) - x(d.a))
  .attr("y", y(anomalyRange[1])).attr("height", y(anomalyRange[0]) - y(anomalyRange[1]))
  .attr("fill", "none").attr("stroke", "#F0623E").attr("stroke-width", 1.3);
gB.selectAll("text").data(boxes).join("text")
  .attr("x", d => (x(d.a) + x(d.b)) / 2).attr("y", y(anomalyRange[1]) - 3.5)
  .attr("text-anchor", "middle").attr("font-size", 7.5).attr("fill", "#333").text(d => d.l);

// earthquake lines
const eqs = eqLabels.map((l, i) => ({l, d: parse(eqDates[i])}));
svg.append("g").selectAll("line").data(eqs).join("line")
  .attr("x1", d => x(d.d)).attr("x2", d => x(d.d))
  .attr("y1", y(eqSpan[0])).attr("y2", y(eqSpan[1]))
  .attr("stroke", "#F5A06C").attr("stroke-width", 1.8).attr("stroke-dasharray", "23,20");
svg.append("g").selectAll("text").data(eqs).join("text")
  .attr("x", (d, i) => i === 2 ? x(d.d) - 5 : x(d.d) + 6)
  .attr("text-anchor", (d, i) => i === 2 ? "end" : "start")
  .attr("y", 20).attr("font-size", 17.5).attr("fill", "#222").text(d => d.l);
</script></body></html>
